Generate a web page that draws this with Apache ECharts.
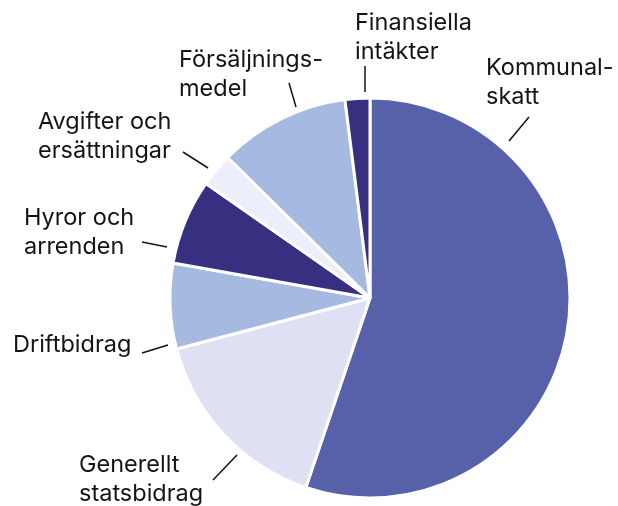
<!DOCTYPE html>
<html>
<head>
<meta charset="utf-8">
<script src="https://cdn.jsdelivr.net/npm/echarts@6/dist/echarts.min.js"></script>
<style>
  html, body { margin: 0; padding: 0; background: #fff; }
  #chart { width: 618px; height: 506px; }
</style>
</head>
<body>
<div id="chart"></div>
<script>
// kategorier (medurs från kl. 12)
const categories = ['Kommunalskatt', 'Generellt statsbidrag', 'Driftbidrag', 'Hyror och arrenden',
    'Avgifter och ersättningar', 'Försäljningsmedel', 'Finansiella intäkter'];
// etiketter som de radbryts i bilden
const labelTexts = ['Kommunal-\nskatt', 'Generellt\nstatsbidrag', 'Driftbidrag', 'Hyror och\narrenden',
    'Avgifter och\nersättningar', 'Försäljnings-\nmedel', 'Finansiella\nintäkter'];
// andel i procent
const values = [55.2, 15.7, 6.9, 6.9, 2.7, 10.6, 2.0];
const colors = ['#5661a9', '#dde1f3', '#a5b9e1', '#372f80', '#eceffa', '#a5b9e1', '#372f80'];

// etikettplacering: textens övre vänstra hörn + ledlinje (annotering)
const labelPos = [[486, 53], [79, 450], [13, 330], [24, 203], [38, 107], [179, 45], [355, 8]];
const linePts = [
    [[509, 141], [529, 117]],
    [[237, 455], [213, 480]],
    [[168, 345], [142, 353]],
    [[167, 247], [142, 242]],
    [[208, 168], [183, 152]],
    [[296, 107], [289, 83]],
    [[365, 92], [365, 66]]
];

const chart = echarts.init(document.getElementById('chart'));
const option = {
    animation: false,
    series: [
        {
            type: 'pie',
            center: [370, 298],
            radius: 200,
            startAngle: 90,
            clockwise: true,
            silent: true,
            data: categories.map((c, i) => ({
                name: c,
                value: values[i],
                itemStyle: { color: colors[i] },
                label: { formatter: labelTexts[i] }
            })),
            itemStyle: {
                borderColor: '#fff',
                borderWidth: 3
            },
            label: {
                show: true,
                position: 'outside',
                fontFamily: 'Inter',
                fontSize: 23.5,
                lineHeight: 29,
                width: 170,
                overflow: 'none',
                color: '#141414'
            },
            labelLine: {
                show: true,
                lineStyle: { color: '#141414', width: 1.5 }
            },
            labelLayout: function (params) {
                const i = params.dataIndex;
                return {
                    x: labelPos[i][0],
                    y: labelPos[i][1],
                    align: 'left',
                    verticalAlign: 'top',
                    labelLinePoints: linePts[i]
                };
            }
        }
    ]
};
chart.setOption(option);
</script>
</body>
</html>
